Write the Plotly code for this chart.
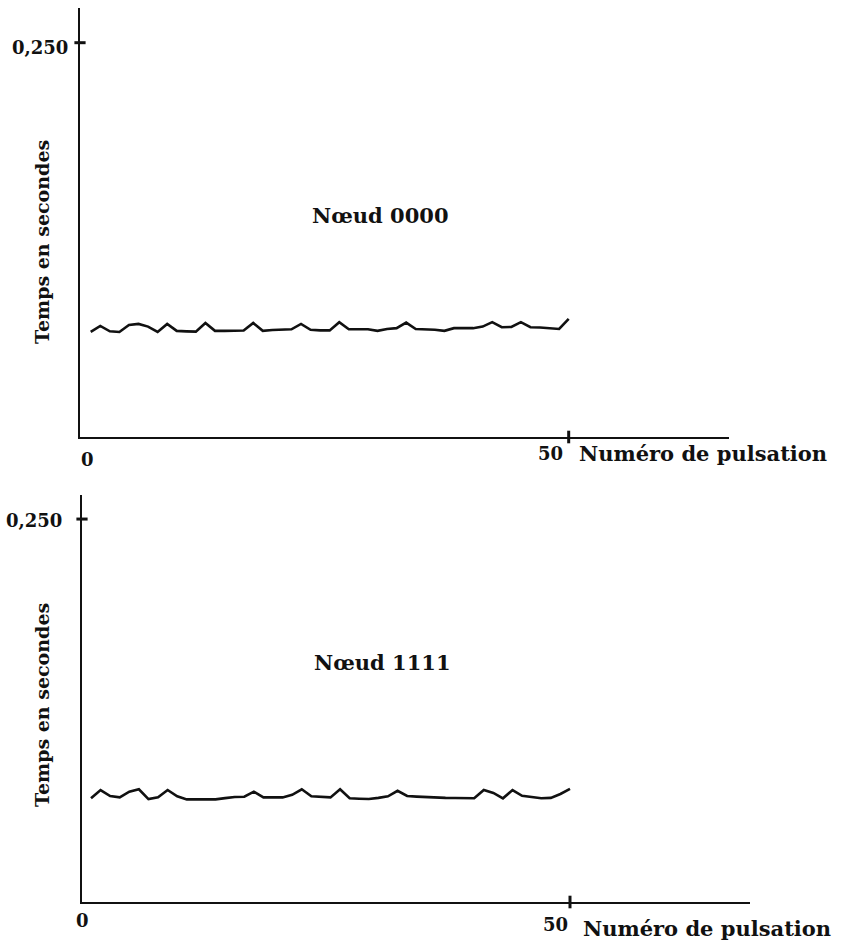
import plotly.graph_objects as go

W, H = 847, 944

# ---- data ----
pulses = list(range(51))
node_0000 = [0.0666, 0.0704, 0.0670, 0.0666, 0.0710, 0.0717, 0.0700, 0.0666, 0.0717, 0.0673,
             0.0670, 0.0668, 0.0723, 0.0673, 0.0673, 0.0675, 0.0675, 0.0723, 0.0673, 0.0678,
             0.0680, 0.0683, 0.0717, 0.0680, 0.0676, 0.0676, 0.0728, 0.0683, 0.0683, 0.0683,
             0.0673, 0.0685, 0.0690, 0.0725, 0.0685, 0.0684, 0.0680, 0.0673, 0.0690, 0.0690,
             0.0690, 0.0700, 0.0728, 0.0696, 0.0698, 0.0728, 0.0696, 0.0694, 0.0690, 0.0685,
             0.0749]
node_1111 = [0.0677, 0.0731, 0.0692, 0.0683, 0.0720, 0.0736, 0.0672, 0.0683, 0.0731, 0.0690,
             0.0670, 0.0670, 0.0670, 0.0670, 0.0678, 0.0685, 0.0687, 0.0720, 0.0683, 0.0683,
             0.0683, 0.0700, 0.0736, 0.0690, 0.0686, 0.0683, 0.0736, 0.0677, 0.0674, 0.0672,
             0.0680, 0.0690, 0.0726, 0.0692, 0.0688, 0.0684, 0.0680, 0.0680, 0.0679, 0.0678,
             0.0677, 0.0731, 0.0712, 0.0677, 0.0731, 0.0693, 0.0685, 0.0677, 0.0680, 0.0705,
             0.0738]
y_tick_value = 0.25
y_tick_label = "0,250"
x_tick_value = 50
x_tick_label = "50"
x_origin_label = "0"
x_title = "Numéro de pulsation"
y_title = "Temps en secondes"
panel_titles = ["Nœud 0000", "Nœud 1111"]

# ---- layout helpers ----
def px(xp):
    return xp / W

def py(yp):
    return 1 - yp / H

INK = "#111111"
WORD_FONT = dict(family="DejaVu Serif", size=21, color=INK, weight="bold")
YTITLE_FONT = dict(family="DejaVu Serif", size=19, color=INK, weight="bold")
NUM_FONT = dict(family="DejaVu Serif", size=18, color=INK, weight="bold")

panels = [
    dict(series=node_0000, xdom=[px(80), px(729)], ydom=[py(437), py(8)],
         xr=[-1.12, 66.77], yr=[0, 0.272], xa="x", ya="y"),
    dict(series=node_1111, xdom=[px(82), px(750)], ydom=[py(902), py(495)],
         xr=[-0.94, 68.79], yr=[0, 0.2657], xa="x2", ya="y2"),
]

fig = go.Figure()
for p in panels:
    fig.add_trace(go.Scatter(x=pulses, y=p["series"], mode="lines",
                             line=dict(color=INK, width=2.6),
                             xaxis=p["xa"], yaxis=p["ya"], showlegend=False,
                             hoverinfo="skip"))
    # tick marks crossing the axes
    fig.add_trace(go.Scatter(x=[x_tick_value], y=[p["yr"][0]], mode="markers",
                             marker=dict(symbol="line-ns", size=9,
                                         line=dict(color=INK, width=3)),
                             xaxis=p["xa"], yaxis=p["ya"], showlegend=False,
                             cliponaxis=False, hoverinfo="skip"))
    fig.add_trace(go.Scatter(x=[p["xr"][0]], y=[y_tick_value], mode="markers",
                             marker=dict(symbol="line-ew", size=8,
                                         line=dict(color=INK, width=3)),
                             xaxis=p["xa"], yaxis=p["ya"], showlegend=False,
                             cliponaxis=False, hoverinfo="skip"))

axis_common = dict(showgrid=False, zeroline=False, showline=True, linecolor=INK,
                   linewidth=2.2, showticklabels=False, ticks="", fixedrange=True)

fig.update_layout(
    width=W, height=H,
    margin=dict(l=0, r=0, t=0, b=0),
    paper_bgcolor="white", plot_bgcolor="white",
    xaxis=dict(domain=panels[0]["xdom"], range=panels[0]["xr"], anchor="y", **axis_common),
    yaxis=dict(domain=panels[0]["ydom"], range=panels[0]["yr"], anchor="x", **axis_common),
    xaxis2=dict(domain=panels[1]["xdom"], range=panels[1]["xr"], anchor="y2", **axis_common),
    yaxis2=dict(domain=panels[1]["ydom"], range=panels[1]["yr"], anchor="x2", **axis_common),
)

annots = [
    # top panel
    dict(text=y_tick_label, x=px(70), y=py(47), xanchor="right", f=NUM_FONT),
    dict(text=x_origin_label, x=px(87), y=py(459), xanchor="center", f=NUM_FONT),
    dict(text=x_tick_label, x=px(550), y=py(454), xanchor="center", f=NUM_FONT),
    dict(text=x_title, x=px(577), y=py(454), xanchor="left", f=WORD_FONT),
    dict(text=panel_titles[0], x=px(380), y=py(215), xanchor="center", f=WORD_FONT),
    dict(text=y_title, x=px(42), y=py(242), xanchor="center", textangle=-90, f=YTITLE_FONT),
    # bottom panel
    dict(text=y_tick_label, x=px(64), y=py(520), xanchor="right", f=NUM_FONT),
    dict(text=x_origin_label, x=px(82), y=py(920), xanchor="center", f=NUM_FONT),
    dict(text=x_tick_label, x=px(555), y=py(924), xanchor="center", f=NUM_FONT),
    dict(text=x_title, x=px(581), y=py(928), xanchor="left", f=WORD_FONT),
    dict(text=panel_titles[1], x=px(382), y=py(662), xanchor="center", f=WORD_FONT),
    dict(text=y_title, x=px(42), y=py(705), xanchor="center", textangle=-90, f=YTITLE_FONT),
]
for a in annots:
    f = a.pop("f")
    fig.add_annotation(xref="paper", yref="paper", showarrow=False, yanchor="middle",
                       font=f, **a)

fig.write_html("out.html")
